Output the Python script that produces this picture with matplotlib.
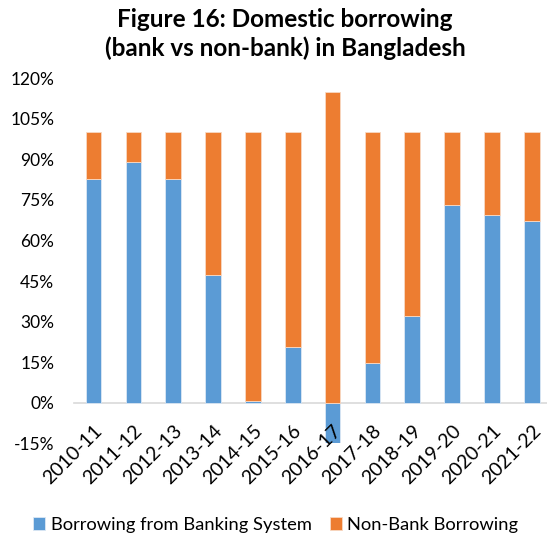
import matplotlib
matplotlib.use("Agg")
import matplotlib.pyplot as plt
from matplotlib.ticker import FuncFormatter
import numpy as np

# fiscal years and the share of each borrowing source (%)
years = ["2010-11", "2011-12", "2012-13", "2013-14", "2014-15", "2015-16",
         "2016-17", "2017-18", "2018-19", "2019-20", "2020-21", "2021-22"]
bank = [82.6, 89.2, 82.8, 47.4, 0.8, 20.6, -15.0, 14.6, 32.1, 73.2, 69.3, 67.4]
non_bank = [17.4, 10.8, 17.2, 52.6, 99.2, 79.4, 115.0, 85.4, 67.9, 26.8, 30.7, 32.6]

plt.rcParams['font.family'] = ['Lato', 'DejaVu Sans']

fig = plt.figure(figsize=(5.47, 5.40), dpi=100)
ax = fig.add_axes([0.1346, 0.179, 0.874, 0.676])

x = np.arange(len(years))
bank = np.array(bank)
non_bank = np.array(non_bank)
# negative bank share goes below zero, non-bank stacks on the positive part
base = np.clip(bank, 0, None)

ax.bar(x, bank, width=0.39, color='#5B9BD5', edgecolor='#DCE8F4', linewidth=0.6,
       label='Borrowing from Banking System')
ax.bar(x, non_bank, width=0.39, bottom=base, color='#ED7D31', edgecolor='#F8D9C4',
       linewidth=0.6, label='Non-Bank Borrowing')

# category axis sits on the zero line (set before the labels, it resets ticks)
for s in ['top', 'right', 'left']:
    ax.spines[s].set_visible(False)
ax.spines['bottom'].set_position(('data', 0))
ax.spines['bottom'].set_color('#D9D9D9')
ax.spines['bottom'].set_linewidth(1.2)
ax.spines['bottom'].set_zorder(0.5)

ax.set_xlim(-0.5, len(years) - 0.5)
ax.set_ylim(-15, 120)
ax.set_yticks(np.arange(-15, 121, 15))
ax.yaxis.set_major_formatter(FuncFormatter(lambda v, p: f"{v:.0f}%"))
ax.set_xticks(x)
ax.set_xticklabels(years, rotation=45, ha='right', va='top', rotation_mode='anchor',
                   fontsize=14)
ax.tick_params(axis='y', length=0, labelsize=12.5, pad=14)
ax.tick_params(axis='x', length=0, pad=14)

fig.suptitle("Figure 16: Domestic borrowing\n(bank vs non-bank) in Bangladesh",
             x=0.521, y=0.985, fontsize=17.5, fontweight='bold', linespacing=1.25)

fig.legend(loc='center', bbox_to_anchor=(0.504, 0.028), ncol=2, frameon=False,
           fontsize=13.2, handlelength=0.65, handleheight=0.65, columnspacing=1.0,
           handletextpad=0.3)

fig.savefig("out.png", dpi=100)
